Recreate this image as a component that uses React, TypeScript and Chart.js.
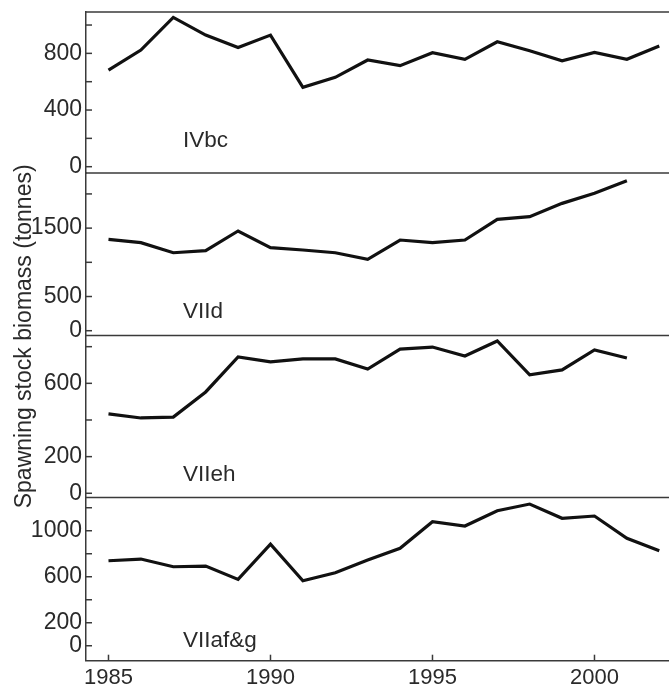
import React, { useEffect, useRef } from 'react';
import { Chart, registerables } from 'chart.js';

Chart.register(...registerables);

const YEARS = [1985, 1986, 1987, 1988, 1989, 1990, 1991, 1992, 1993, 1994, 1995, 1996, 1997, 1998, 1999, 2000, 2001, 2002];
const IVBC = [682, 823, 1054, 929, 842, 929, 560, 631, 753, 713, 805, 758, 882, 819, 748, 807, 758, 852];
const VIID = [1336, 1287, 1140, 1170, 1458, 1214, 1180, 1140, 1044, 1326, 1287, 1326, 1629, 1667, 1862, 2009, 2193, null];
const VIIEH = [433, 411, 416, 553, 744, 717, 733, 733, 678, 787, 798, 749, 831, 646, 673, 782, 738, null];
const VIIAFG = [739, 754, 687, 693, 577, 884, 565, 635, 745, 847, 1078, 1041, 1174, 1232, 1108, 1128, 934, 826];

const PANEL_NAMES = ['IVbc', 'VIId', 'VIIeh', 'VIIaf&g'];
const IVBC_TICKS = [0, 200, 400, 600, 800, 1000];
const IVBC_LABELS = [0, 400, 800];
const VIID_TICKS = [0, 500, 1000, 1500, 2000];
const VIID_LABELS = [0, 500, 1500];
const VIIEH_TICKS = [0, 200, 400, 600, 800];
const VIIEH_LABELS = [0, 200, 600];
const VIIAFG_TICKS = [0, 200, 400, 600, 800, 1000, 1200];
const VIIAFG_LABELS = [0, 200, 600, 1000];
const X_TICKS = [1985, 1990, 1995, 2000];
const Y_TITLE = 'Spawning stock biomass (tonnes)';

const FONT = "'Liberation Sans', Arial, sans-serif";
const AXIS_COLOR = '#3a3a3a';
const TEXT_COLOR = '#2a2a2a';

type Panel = {
  id: string;
  name: string;
  values: (number | null)[];
  min: number;
  max: number;
  weight: number;
  ticks: number[];
  labels: number[];
  labelOffset: number;
};

const PANELS: Panel[] = [
  { id: 'y1', name: PANEL_NAMES[0], values: IVBC, min: -44.5, max: 1092, weight: 161, ticks: IVBC_TICKS, labels: IVBC_LABELS, labelOffset: 26 },
  { id: 'y2', name: PANEL_NAMES[1], values: VIID, min: -70, max: 2306, weight: 162.5, ticks: VIID_TICKS, labels: VIID_LABELS, labelOffset: 17.5 },
  { id: 'y3', name: PANEL_NAMES[2], values: VIIEH, min: -23, max: 861, weight: 162, ticks: VIIEH_TICKS, labels: VIIEH_LABELS, labelOffset: 16.5 },
  { id: 'y4', name: PANEL_NAMES[3], values: VIIAFG, min: -130, max: 1289, weight: 163.2, ticks: VIIAFG_TICKS, labels: VIIAFG_LABELS, labelOffset: 14 },
];

const LABEL_X = 1987.3;

function makeYScale(p: Panel) {
  return {
    type: 'linear',
    position: 'left',
    stack: 'panels',
    stackWeight: p.weight,
    min: p.min,
    max: p.max,
    afterBuildTicks: (s: any) => {
      s.ticks = p.ticks.map((v) => ({ value: v }));
    },
    afterFit: (s: any) => {
      s.width = 86;
      s.paddingTop = 0;
      s.paddingBottom = 0;
    },
    ticks: {
      autoSkip: false,
      padding: 4,
      color: TEXT_COLOR,
      font: { family: FONT, size: 23 },
      callback: (v: any) => (p.labels.includes(Number(v)) ? String(v) : ''),
    },
    grid: { display: true, drawOnChartArea: false, drawTicks: false },
    border: { display: true, color: AXIS_COLOR, width: 1.5 },
  };
}

const framePlugin = {
  id: 'frame',
  afterDraw(chart: any) {
    const { ctx, chartArea } = chart;
    const xs = chart.scales.x;
    ctx.save();
    ctx.strokeStyle = AXIS_COLOR;
    ctx.lineWidth = 1.5;
    PANELS.forEach((p) => {
      const s = chart.scales[p.id];
      ctx.beginPath();
      ctx.moveTo(chartArea.left, s.top);
      ctx.lineTo(chartArea.right, s.top);
      ctx.stroke();
      // inward tick marks
      p.ticks.forEach((v) => {
        const y = s.getPixelForValue(v);
        ctx.beginPath();
        ctx.moveTo(chartArea.left, y);
        ctx.lineTo(chartArea.left + 6, y);
        ctx.stroke();
      });
      // panel label
      ctx.fillStyle = TEXT_COLOR;
      ctx.font = `22.5px ${FONT}`;
      ctx.textAlign = 'left';
      ctx.textBaseline = 'alphabetic';
      ctx.fillText(p.name, xs.getPixelForValue(LABEL_X), s.bottom - p.labelOffset);
    });
    X_TICKS.forEach((v) => {
      const x = xs.getPixelForValue(v);
      ctx.beginPath();
      ctx.moveTo(x, chartArea.bottom);
      ctx.lineTo(x, chartArea.bottom - 6);
      ctx.stroke();
    });
    // y axis title
    ctx.translate(31, (chartArea.top + chartArea.bottom) / 2);
    ctx.rotate(-Math.PI / 2);
    ctx.font = `23px ${FONT}`;
    ctx.fillStyle = TEXT_COLOR;
    ctx.textAlign = 'center';
    ctx.textBaseline = 'alphabetic';
    ctx.fillText(Y_TITLE, 0, 0);
    ctx.restore();
  },
};

export default function App() {
  const canvasRef = useRef<HTMLCanvasElement | null>(null);

  useEffect(() => {
    if (!canvasRef.current) return;
    const scales: any = {
      x: {
        type: 'linear',
        min: 1984.306,
        max: 2002.3,
        afterBuildTicks: (s: any) => {
          s.ticks = X_TICKS.map((v) => ({ value: v }));
        },
        afterFit: (s: any) => {
          s.height = 27.3;
          s.paddingLeft = 0;
          s.paddingRight = 0;
        },
        ticks: {
          autoSkip: false,
          maxRotation: 0,
          padding: 4,
          color: TEXT_COLOR,
          font: { family: FONT, size: 22 },
          callback: (v: any) => String(v),
        },
        grid: { display: true, drawOnChartArea: false, drawTicks: false },
        border: { display: true, color: AXIS_COLOR, width: 1.5 },
      },
    };
    [...PANELS].reverse().forEach((p) => {
      scales[p.id] = makeYScale(p);
    });

    const chart = new Chart(canvasRef.current, {
      type: 'line',
      data: {
        datasets: PANELS.map((p) => ({
          label: p.name,
          yAxisID: p.id,
          xAxisID: 'x',
          data: YEARS.map((yr, i) => ({ x: yr, y: p.values[i] })).filter((d) => d.y !== null) as any,
          borderColor: '#111',
          borderWidth: 3.2,
          pointRadius: 0,
          tension: 0,
          fill: false,
        })),
      },
      options: {
        animation: false,
        responsive: true,
        maintainAspectRatio: false,
        devicePixelRatio: 1,
        layout: { padding: { top: 12, left: 0, right: 0, bottom: 0 } },
        plugins: {
          legend: { display: false },
          tooltip: { enabled: false },
        },
        scales,
      } as any,
      plugins: [framePlugin],
    });
    return () => chart.destroy();
  }, []);

  return (
    <div style={{ position: 'absolute', left: 0, top: 0, width: 669, height: 688, overflow: 'hidden', background: '#fff' }}>
      <canvas ref={canvasRef} />
    </div>
  );
}
